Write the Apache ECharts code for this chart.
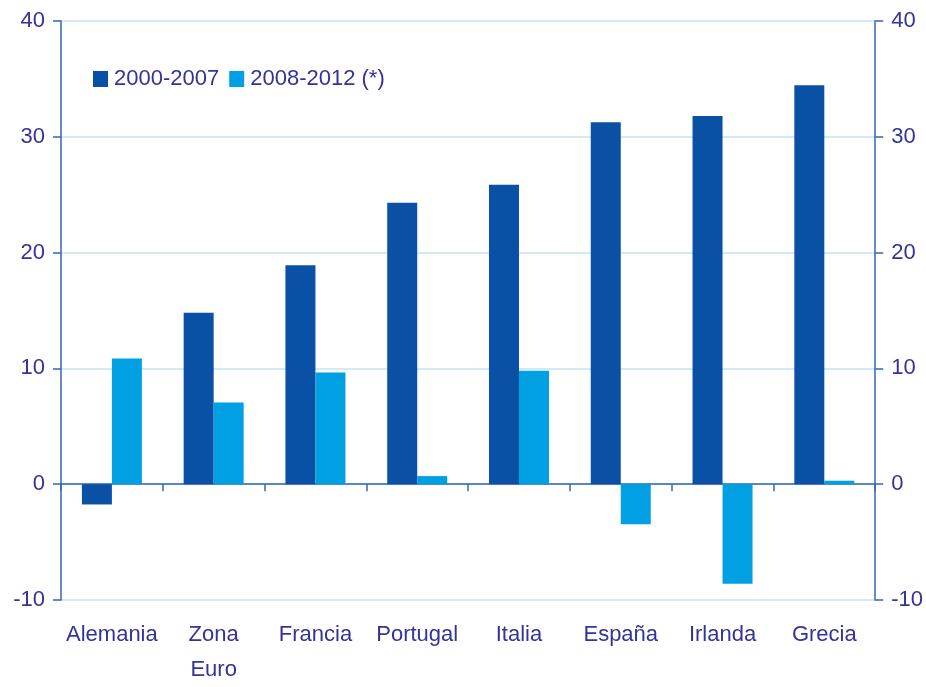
<!DOCTYPE html>
<html><head><meta charset="utf-8">
<script src="https://cdn.jsdelivr.net/npm/echarts@6/dist/echarts.min.js"></script>
<style>html,body{margin:0;padding:0;background:#fff;overflow:hidden}#c{width:926px;height:687px}</style>
</head><body><div id="c"></div>
<script>
var categories = ['Alemania', 'Zona\nEuro', 'Francia', 'Portugal', 'Italia', 'España', 'Irlanda', 'Grecia'];
var seriesNames = ['2000-2007', '2008-2012 (*)'];
var s2000_2007 = [-1.75, 14.8, 18.9, 24.3, 25.85, 31.25, 31.8, 34.45];
var s2008_2012 = [10.85, 7.05, 9.65, 0.7, 9.8, -3.45, -8.6, 0.3];
var yTicks = [-10, 0, 10, 20, 30, 40];

var txt = '#333399', axisBlue = '#3366bb', grid = '#c3e4ee';
var font = '"Liberation Sans", Arial, sans-serif';
var fs = 22;
var chart = echarts.init(document.getElementById('c'), null, { width: 926, height: 687 });
var yAxisCommon = {
  type: 'value', min: yTicks[0], max: yTicks[yTicks.length - 1], interval: 10,
  axisLine: { show: true, lineStyle: { color: axisBlue, width: 1.5 } },
  axisTick: { show: true, length: 8, lineStyle: { color: axisBlue, width: 1.5 } },
  axisLabel: { color: txt, fontSize: fs, fontFamily: font, margin: 16 },
  splitLine: { show: false }
};
chart.setOption({
  animation: false,
  grid: { left: 61, top: 21, width: 817, height: 583 },
  legend: {
    left: 88, top: 63, icon: 'rect', itemWidth: 15, itemHeight: 16, itemGap: 10,
    textStyle: { color: txt, fontSize: fs, fontFamily: font, padding: [0, 0, 0, 1] },
    data: seriesNames
  },
  xAxis: [
    {
      type: 'category', data: categories, position: 'bottom',
      axisLine: { show: false, onZero: false }, axisTick: { show: false },
      axisLabel: { color: txt, fontSize: fs, fontFamily: font, margin: 17, lineHeight: 35, interval: 0 },
      splitLine: { show: false }
    },
    {
      type: 'category', data: categories, position: 'bottom',
      axisLine: { show: true, onZero: true, lineStyle: { color: axisBlue, width: 1.5 } },
      axisTick: { show: true, length: 7, lineStyle: { color: axisBlue, width: 1.5 } },
      axisLabel: { show: false }
    }
  ],
  yAxis: [
    Object.assign({}, yAxisCommon, {
      position: 'left',
      splitLine: { show: true, lineStyle: { color: grid, width: 1.5 } }
    }),
    Object.assign({}, yAxisCommon, { position: 'right' })
  ],
  series: [
    { name: seriesNames[0], type: 'bar', data: s2000_2007, barWidth: 30, barGap: '0%',
      itemStyle: { color: '#0a50a5' } },
    { name: seriesNames[1], type: 'bar', data: s2008_2012, barWidth: 30, barGap: '0%',
      itemStyle: { color: '#00a0e2' } }
  ]
});
</script></body></html>
